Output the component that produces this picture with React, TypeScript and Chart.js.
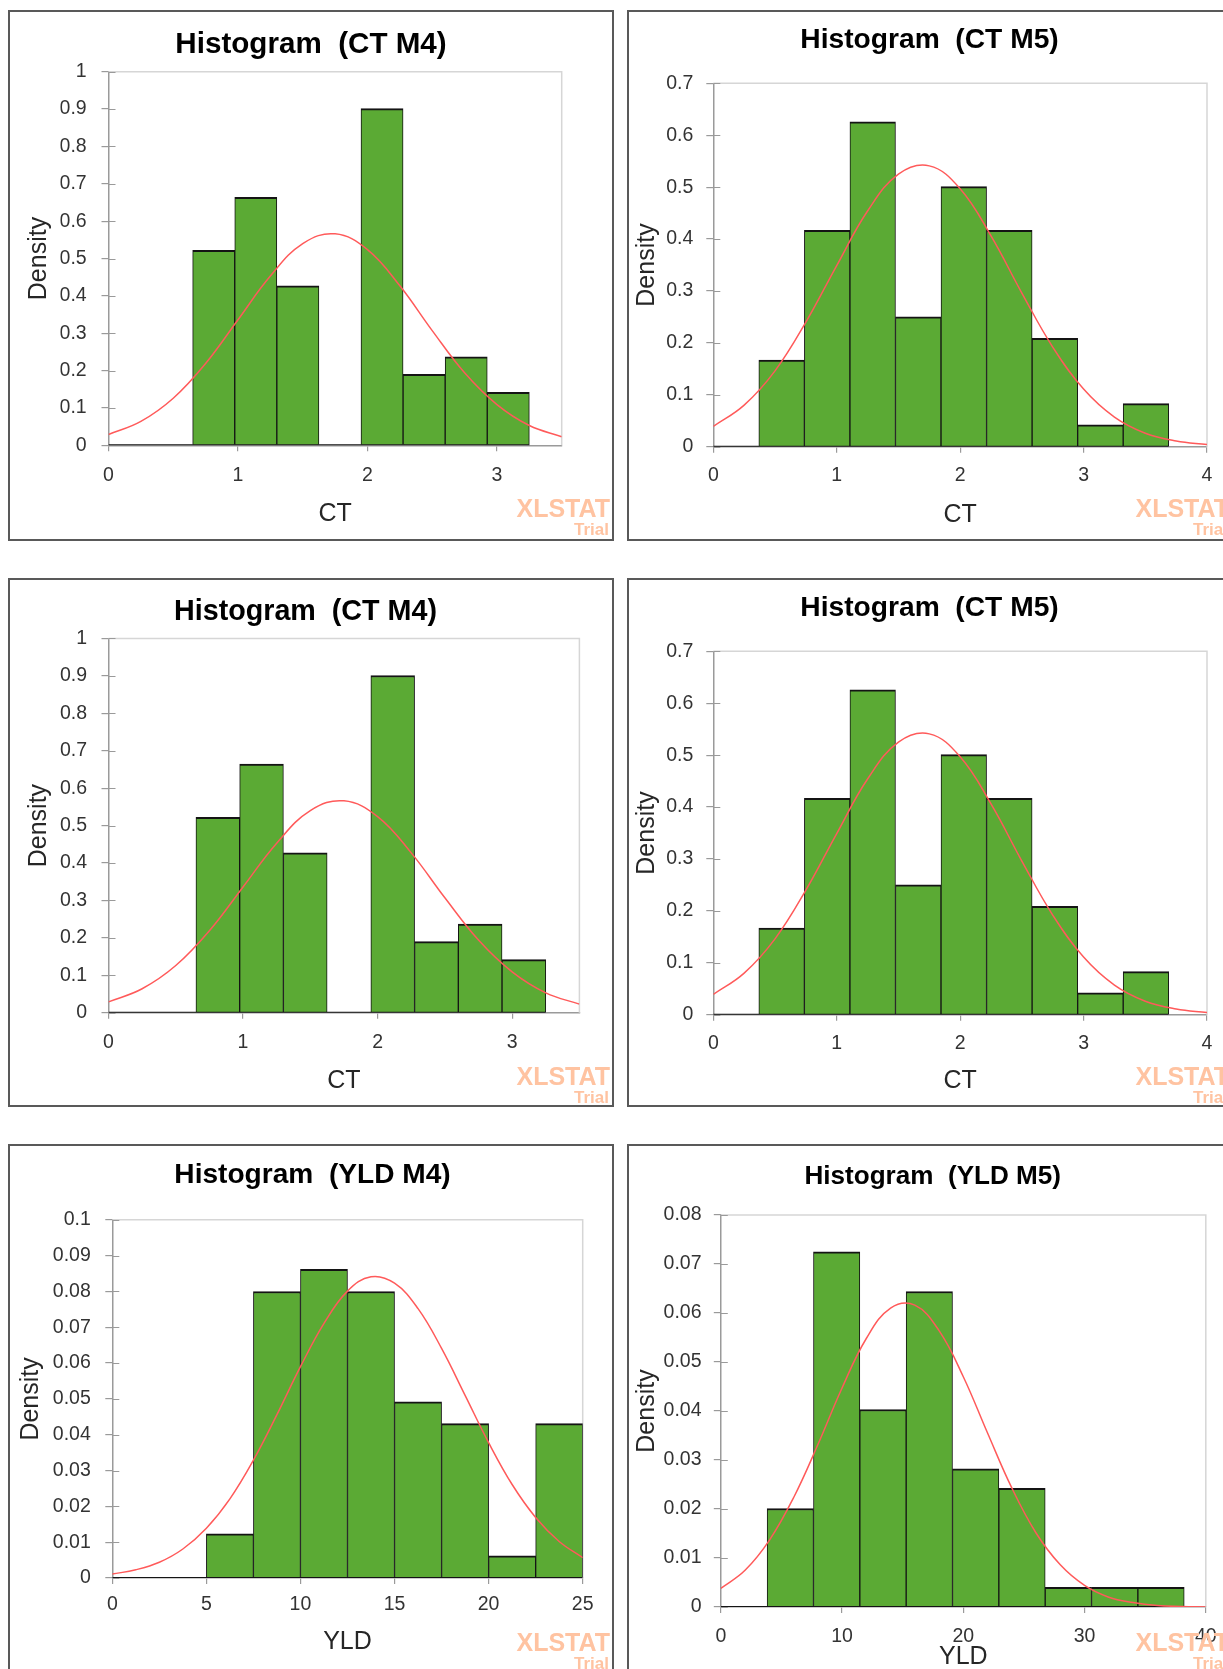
import React, { useEffect, useRef } from "react";
import { Chart, registerables } from "chart.js";

Chart.register(...registerables);

const FONT = "'Liberation Sans', Arial, Helvetica, sans-serif";
Chart.defaults.font.family = FONT;
Chart.defaults.color = "#333333";

// ---------------- DATA ----------------
// CT M4
const CT_M4_EDGES = [0, 0.325, 0.65, 0.975, 1.3, 1.625, 1.95, 2.275, 2.6, 2.925, 3.25];
const CT_M4_DENSITY = [0, 0, 0.522, 0.664, 0.427, 0, 0.901, 0.19, 0.237, 0.142];
const CT_M4_CURVE_X = [0, 0.25, 0.5, 0.75, 1, 1.25, 1.5, 1.75, 2, 2.25, 2.5, 2.75, 3, 3.25, 3.5];
const CT_M4_CURVE_Y = [0.029, 0.064, 0.126, 0.219, 0.336, 0.453, 0.54, 0.566, 0.524, 0.427, 0.307, 0.194, 0.109, 0.053, 0.023];
const CT_M4_X_TICKS = [0, 1, 2, 3];
const CT_M4_X_LABELS = ["0", "1", "2", "3"];
const CT_M4_Y_TICKS = [0, 0.1, 0.2, 0.3, 0.4, 0.5, 0.6, 0.7, 0.8, 0.9, 1];
const CT_M4_Y_LABELS = ["0", "0.1", "0.2", "0.3", "0.4", "0.5", "0.6", "0.7", "0.8", "0.9", "1"];

// CT M5
const CT_M5_EDGES = [0, 0.369, 0.738, 1.107, 1.476, 1.845, 2.214, 2.583, 2.952, 3.321, 3.69];
const CT_M5_DENSITY = [0, 0.167, 0.417, 0.626, 0.25, 0.501, 0.417, 0.209, 0.042, 0.083];
const CT_M5_CURVE_X = [0, 0.25, 0.5, 0.75, 1, 1.25, 1.5, 1.75, 2, 2.25, 2.5, 2.75, 3, 3.25, 3.5, 3.75, 4];
const CT_M5_CURVE_Y = [0.039, 0.08, 0.146, 0.24, 0.349, 0.454, 0.525, 0.541, 0.497, 0.406, 0.296, 0.192, 0.111, 0.057, 0.026, 0.011, 0.004];
const CT_M5_X_TICKS = [0, 1, 2, 3, 4];
const CT_M5_X_LABELS = ["0", "1", "2", "3", "4"];
const CT_M5_Y_TICKS = [0, 0.1, 0.2, 0.3, 0.4, 0.5, 0.6, 0.7];
const CT_M5_Y_LABELS = ["0", "0.1", "0.2", "0.3", "0.4", "0.5", "0.6", "0.7"];

// YLD M4
const YLD_M4_EDGES = [0, 2.5, 5, 7.5, 10, 12.5, 15, 17.5, 20, 22.5, 25];
const YLD_M4_DENSITY = [0, 0, 0.0123, 0.08, 0.0862, 0.08, 0.0492, 0.0431, 0.0062, 0.0431];
const YLD_M4_CURVE_X = [0, 1.25, 2.5, 3.75, 5, 6.25, 7.5, 8.75, 10, 11.25, 12.5, 13.75, 15, 16.25, 17.5, 18.75, 20, 21.25, 22.5, 23.75, 25];
const YLD_M4_CURVE_Y = [0.0011, 0.0023, 0.0044, 0.0081, 0.0139, 0.0221, 0.0329, 0.0456, 0.059, 0.0711, 0.0801, 0.0841, 0.0823, 0.0752, 0.0641, 0.051, 0.0378, 0.0261, 0.0169, 0.0102, 0.0057];
const YLD_M4_X_TICKS = [0, 5, 10, 15, 20, 25];
const YLD_M4_X_LABELS = ["0", "5", "10", "15", "20", "25"];
const YLD_M4_Y_TICKS = [0, 0.01, 0.02, 0.03, 0.04, 0.05, 0.06, 0.07, 0.08, 0.09, 0.1];
const YLD_M4_Y_LABELS = ["0", "0.01", "0.02", "0.03", "0.04", "0.05", "0.06", "0.07", "0.08", "0.09", "0.1"];

// YLD M5
const YLD_M5_EDGES = [0, 3.822, 7.644, 11.466, 15.288, 19.11, 22.932, 26.754, 30.576, 34.398, 38.22];
const YLD_M5_DENSITY = [0, 0.0201, 0.0725, 0.0403, 0.0644, 0.0282, 0.0242, 0.004, 0.004, 0.004];
const YLD_M5_CURVE_X = [0, 2, 4, 6, 8, 10, 12, 14, 16, 18, 20, 22, 24, 26, 28, 30, 32, 34, 36, 38, 40];
const YLD_M5_CURVE_Y = [0.0038, 0.0075, 0.0136, 0.0223, 0.0331, 0.0447, 0.0548, 0.061, 0.0616, 0.0564, 0.047, 0.0355, 0.0243, 0.0151, 0.0086, 0.0044, 0.002, 0.0009, 0.0003, 0.0001, 0];
const YLD_M5_X_TICKS = [0, 10, 20, 30, 40];
const YLD_M5_X_LABELS = ["0", "10", "20", "30", "40"];
const YLD_M5_Y_TICKS = [0, 0.01, 0.02, 0.03, 0.04, 0.05, 0.06, 0.07, 0.08];
const YLD_M5_Y_LABELS = ["0", "0.01", "0.02", "0.03", "0.04", "0.05", "0.06", "0.07", "0.08"];

// ---------------- STYLE / LAYOUT ----------------
const GREEN = "#5BAA34";
const BAR_EDGE = "#141414";
const CURVE = "#FF5A5A";
const AXIS = "#9A9A9A";
const FRAME = "#D6D6D6";

type Series = {
  title: string;
  xTitle: string;
  edges: number[];
  density: number[];
  curveX: number[];
  curveY: number[];
  xTicks: number[];
  xLabels: string[];
  yTicks: number[];
  yLabels: string[];
};

type Lay = {
  left: number; top: number; w: number; h: number; ts: number;
  pl: number; pr: number; yw: number; xh: number;
  tp: number; bp: number; ytt: number; xtb: number; ytp: number; xtp: number;
};

const CT_M4: Series = {
  title: "Histogram  (CT M4)", xTitle: "CT",
  edges: CT_M4_EDGES, density: CT_M4_DENSITY, curveX: CT_M4_CURVE_X, curveY: CT_M4_CURVE_Y,
  xTicks: CT_M4_X_TICKS, xLabels: CT_M4_X_LABELS, yTicks: CT_M4_Y_TICKS, yLabels: CT_M4_Y_LABELS,
};
const CT_M5: Series = {
  title: "Histogram  (CT M5)", xTitle: "CT",
  edges: CT_M5_EDGES, density: CT_M5_DENSITY, curveX: CT_M5_CURVE_X, curveY: CT_M5_CURVE_Y,
  xTicks: CT_M5_X_TICKS, xLabels: CT_M5_X_LABELS, yTicks: CT_M5_Y_TICKS, yLabels: CT_M5_Y_LABELS,
};
const YLD_M4: Series = {
  title: "Histogram  (YLD M4)", xTitle: "YLD",
  edges: YLD_M4_EDGES, density: YLD_M4_DENSITY, curveX: YLD_M4_CURVE_X, curveY: YLD_M4_CURVE_Y,
  xTicks: YLD_M4_X_TICKS, xLabels: YLD_M4_X_LABELS, yTicks: YLD_M4_Y_TICKS, yLabels: YLD_M4_Y_LABELS,
};
const YLD_M5: Series = {
  title: "Histogram  (YLD M5)", xTitle: "YLD",
  edges: YLD_M5_EDGES, density: YLD_M5_DENSITY, curveX: YLD_M5_CURVE_X, curveY: YLD_M5_CURVE_Y,
  xTicks: YLD_M5_X_TICKS, xLabels: YLD_M5_X_LABELS, yTicks: YLD_M5_Y_TICKS, yLabels: YLD_M5_Y_LABELS,
};

const PANELS: { s: Series; l: Lay }[] = [
  { s: CT_M4, l: { left: 8, top: 10, w: 606, h: 531, ts: 29.6, pl: 50.3, pr: 50.3, yw: 48.2, xh: 93.7, tp: 14.8, bp: 9.4, ytt: -35.8, xtb: 9.5, ytp: 14.8, xtp: 12.5 } },
  { s: CT_M5, l: { left: 627, top: 10, w: 606, h: 531, ts: 28.2, pl: 23, pr: 24, yw: 61.3, xh: 92.3, tp: 11.8, bp: 25.7, ytt: -20.3, xtb: 8.8, ytp: 13, xtp: 11 } },
  { s: CT_M4, l: { left: 8, top: 578, w: 606, h: 529, ts: 28.7, pl: 21.6, pr: 32.6, yw: 76.9, xh: 92.3, tp: 14.6, bp: 9.4, ytt: -7.6, xtb: 8.5, ytp: 14.5, xtp: 12.6 } },
  { s: CT_M5, l: { left: 627, top: 578, w: 606, h: 529, ts: 28.2, pl: 23, pr: 24, yw: 61.3, xh: 90.3, tp: 11.1, bp: 26.4, ytt: -20.3, xtb: 8.6, ytp: 13, xtp: 11 } },
  { s: YLD_M4, l: { left: 8, top: 1144, w: 606, h: 531, ts: 28.1, pl: 32.3, pr: 29.3, yw: 70, xh: 95, tp: 12.8, bp: 27.3, ytt: -26.3, xtb: 16, ytp: 14.5, xtp: 9.3 } },
  { s: YLD_M5, l: { left: 627, top: 1144, w: 606, h: 531, ts: 26.1, pl: 30.6, pr: 25.2, yw: 61.2, xh: 66, tp: 15.5, bp: 22.2, ytt: -27.6, xtb: 1, ytp: 12.3, xtp: 11.8 } },
];

// frame (top/right), inner half of y tick marks, XLSTAT watermark
const decorPlugin = {
  id: "decor",
  beforeDatasetsDraw(chart: any) {
    const { ctx, chartArea: a, scales } = chart;
    ctx.save();
    ctx.strokeStyle = FRAME;
    ctx.lineWidth = 1.5;
    ctx.beginPath();
    ctx.moveTo(a.left, a.top);
    ctx.lineTo(a.right, a.top);
    ctx.lineTo(a.right, a.bottom);
    ctx.stroke();
    const y = scales.y;
    ctx.strokeStyle = AXIS;
    ctx.lineWidth = 1.2;
    ctx.beginPath();
    y.ticks.forEach((_t: any, i: number) => {
      const py = Math.round(y.getPixelForTick(i)) + 0.5;
      ctx.moveTo(a.left, py);
      ctx.lineTo(a.left + 7, py);
    });
    ctx.stroke();
    ctx.restore();
  },
  afterDraw(chart: any) {
    const { ctx } = chart;
    ctx.save();
    ctx.fillStyle = "#FFC3A1";
    ctx.textAlign = "right";
    ctx.textBaseline = "middle";
    ctx.font = `bold 25px ${FONT}`;
    ctx.fillText("XLSTAT", 600, 498.5);
    ctx.font = `bold 17px ${FONT}`;
    ctx.fillText("Trial", 599, 518.5);
    ctx.restore();
  },
};

function Panel({ s, l }: { s: Series; l: Lay }) {
  const ref = useRef<HTMLCanvasElement | null>(null);
  const cw = l.w - 4;
  const ch = l.h - 4;

  useEffect(() => {
    if (!ref.current) return;
    const centers = s.density.map((_, i) => (s.edges[i] + s.edges[i + 1]) / 2);
    const bars = s.density.map((d, i) => ({ x: centers[i], y: d }));
    const curve = s.curveX.map((x, i) => ({ x, y: s.curveY[i] }));
    const base = [
      { x: s.edges[0], y: 0 },
      { x: s.edges[s.edges.length - 1], y: 0 },
    ];
    const xMax = s.curveX[s.curveX.length - 1];
    const yMax = s.yTicks[s.yTicks.length - 1];

    const chart = new Chart(ref.current, {
      type: "bar",
      data: {
        datasets: [
          {
            type: "line",
            label: "Normal",
            data: curve,
            borderColor: CURVE,
            borderWidth: 1.5,
            pointRadius: 0,
            tension: 0.4,
            fill: false,
          } as any,
          {
            type: "line",
            label: "base",
            data: base,
            borderColor: BAR_EDGE,
            borderWidth: 2,
            pointRadius: 0,
            fill: false,
          } as any,
          {
            type: "bar",
            label: "Density",
            data: bars,
            backgroundColor: GREEN,
            borderColor: BAR_EDGE,
            borderWidth: { top: 2, left: 1, right: 1, bottom: 0 },
            borderSkipped: "start",
            barPercentage: 1,
            categoryPercentage: 1,
          } as any,
        ],
      },
      options: {
        animation: false,
        responsive: false,
        devicePixelRatio: 1,
        events: [],
        layout: { padding: { left: l.pl, right: l.pr, top: 0, bottom: 0 } },
        plugins: {
          legend: { display: false },
          tooltip: { enabled: false },
          title: {
            display: true,
            text: s.title,
            color: "#000",
            font: { family: FONT, size: l.ts, weight: "bold", lineHeight: 1.2 },
            padding: { top: l.tp, bottom: l.bp },
          },
        },
        scales: {
          x: {
            type: "linear",
            min: 0,
            max: xMax,
            offset: false,
            afterFit: (sc: any) => { sc.height = l.xh; },
            afterBuildTicks: (sc: any) => { sc.ticks = s.xTicks.map((v) => ({ value: v })); },
            ticks: {
              autoSkip: false,
              maxRotation: 0,
              padding: l.xtp,
              color: "#333333",
              font: { family: FONT, size: 19.5 },
              callback: (_v: any, i: number) => s.xLabels[i],
            },
            grid: { display: true, drawOnChartArea: false, drawTicks: true, tickLength: 6, color: AXIS, lineWidth: 1.2, offset: false },
            border: { display: true, color: AXIS, width: 1.5 },
            title: {
              display: true,
              text: s.xTitle,
              color: "#262626",
              font: { family: FONT, size: 25 },
              padding: { top: 0, bottom: l.xtb },
            },
          },
          y: {
            type: "linear",
            min: 0,
            max: yMax,
            afterFit: (sc: any) => { sc.width = l.yw; },
            afterBuildTicks: (sc: any) => { sc.ticks = s.yTicks.map((v) => ({ value: v })); },
            ticks: {
              autoSkip: false,
              padding: l.ytp,
              color: "#333333",
              font: { family: FONT, size: 19.5 },
              callback: (_v: any, i: number) => s.yLabels[i],
            },
            grid: { display: true, drawOnChartArea: false, drawTicks: true, tickLength: 7, color: AXIS, lineWidth: 1.2 },
            border: { display: true, color: AXIS, width: 1.5 },
            title: {
              display: true,
              text: "Density",
              color: "#262626",
              font: { family: FONT, size: 25 },
              padding: { top: l.ytt, bottom: 0 },
            },
          },
        },
      } as any,
      plugins: [decorPlugin],
    });
    return () => chart.destroy();
  }, [s, l]);

  return (
    <div
      style={{
        position: "absolute",
        left: l.left,
        top: l.top,
        width: l.w,
        height: l.h,
        boxSizing: "border-box",
        border: "2px solid #595959",
        background: "#fff",
      }}
    >
      <canvas
        ref={ref}
        width={cw}
        height={ch}
        style={{ position: "absolute", left: 0, top: 0, width: cw, height: ch }}
      />
    </div>
  );
}

export default function App() {
  return (
    <div
      style={{
        position: "fixed",
        left: 0,
        top: 0,
        width: 1223,
        height: 1669,
        overflow: "hidden",
        background: "#fff",
      }}
    >
      {PANELS.map((p, i) => (
        <Panel key={i} s={p.s} l={p.l} />
      ))}
    </div>
  );
}
